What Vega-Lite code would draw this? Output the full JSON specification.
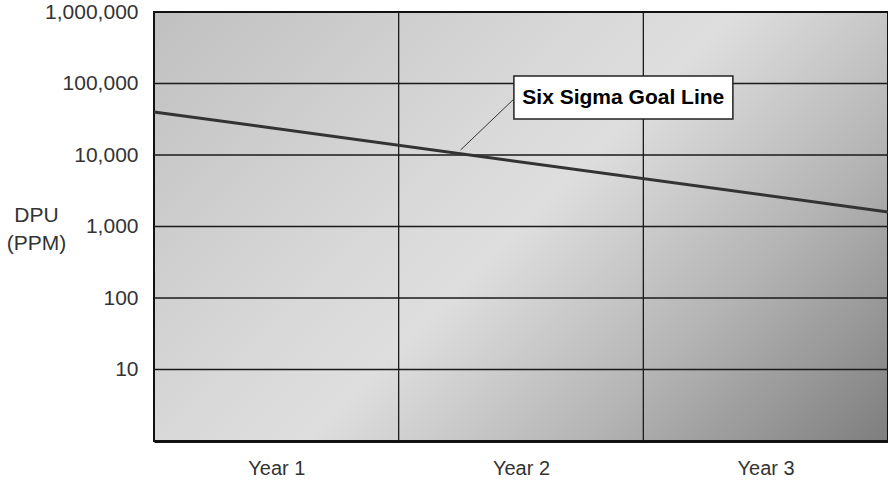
{
  "$schema": "https://vega.github.io/schema/vega-lite/v6.json",
  "width": 734,
  "height": 429,
  "autosize": {"type": "none"},
  "padding": {"left": 154, "top": 12, "right": 0, "bottom": 40},
  "background": "white",
  "config": {
    "view": {"stroke": null},
    "font": "Liberation Sans"
  },
  "datasets": {
    "bg": [{"x0": 0, "x1": 3, "y0": 1, "y1": 1000000}],
    "hgrid": [{"v": 10}, {"v": 100}, {"v": 1000}, {"v": 10000}, {"v": 100000}],
    "vgrid": [{"v": 1}, {"v": 2}],
    "goal": [{"year": 0, "dpu": 40000}, {"year": 3, "dpu": 1600}],
    "callout": [{"x": 1.253, "y": 11750, "x2": 1.471, "y2": 60700}],
    "box": [{"x": 1.471, "x2": 2.366, "y": 127400, "y2": 31860, "cx": 1.918, "cy": 63700, "label": "Six Sigma Goal Line"}]
  },
  "layer": [
    {
      "data": {"name": "bg"},
      "mark": {
        "type": "rect",
        "fill": {
          "gradient": "linear",
          "x1": 0, "y1": 0, "x2": 1.181, "y2": 0.69,
          "stops": [
            {"offset": 0, "color": "#c0c0c0"},
            {"offset": 0.37, "color": "#d8d8d8"},
            {"offset": 0.5, "color": "#dedede"},
            {"offset": 0.74, "color": "#b4b4b4"},
            {"offset": 1, "color": "#7e7e7e"}
          ]
        },
        "stroke": "#111",
        "strokeWidth": 2
      },
      "encoding": {
        "x": {
          "field": "x0", "type": "quantitative",
          "scale": {"domain": [0, 3], "nice": false, "zero": false},
          "axis": {
            "title": null,
            "values": [0.5, 1.5, 2.5],
            "labelExpr": "'Year ' + (datum.value + 0.5)",
            "labelFlush": false,
            "grid": false,
            "ticks": false,
            "tickSize": 0,
            "domainColor": "#111",
            "domainWidth": 3,
            "labelFontSize": 20,
            "labelColor": "#333",
            "labelPadding": 17,
            "labelDx": 6
          }
        },
        "x2": {"field": "x1"},
        "y": {
          "field": "y0", "type": "quantitative",
          "scale": {"type": "log", "domain": [1, 1000000], "nice": false},
          "axis": {
            "values": [10, 100, 1000, 10000, 100000, 1000000],
            "format": ",",
            "grid": false,
            "ticks": false,
            "tickSize": 0,
            "domainColor": "#111",
            "domainWidth": 3,
            "labelFontSize": 21,
            "labelColor": "#333",
            "labelPadding": 16,
            "title": ["DPU", "(PPM)"],
            "titleAngle": 0,
            "titleAlign": "center",
            "titleBaseline": "top",
            "titleX": -118,
            "titleY": 192,
            "titleFontSize": 21,
            "titleFontWeight": "normal",
            "titleColor": "#333",
            "titleLineHeight": 28
          }
        },
        "y2": {"field": "y1"}
      }
    },
    {
      "data": {"name": "hgrid"},
      "mark": {"type": "rule", "color": "#1a1a1a", "strokeWidth": 1.3},
      "encoding": {"y": {"field": "v", "type": "quantitative"}}
    },
    {
      "data": {"name": "vgrid"},
      "mark": {"type": "rule", "color": "#1a1a1a", "strokeWidth": 1.3},
      "encoding": {"x": {"field": "v", "type": "quantitative"}}
    },
    {
      "data": {"name": "goal"},
      "mark": {"type": "line", "color": "#333", "strokeWidth": 3},
      "encoding": {
        "x": {"field": "year", "type": "quantitative"},
        "y": {"field": "dpu", "type": "quantitative"}
      }
    },
    {
      "data": {"name": "callout"},
      "mark": {"type": "rule", "color": "#333", "strokeWidth": 1},
      "encoding": {
        "x": {"field": "x", "type": "quantitative"},
        "y": {"field": "y", "type": "quantitative"},
        "x2": {"field": "x2"},
        "y2": {"field": "y2"}
      }
    },
    {
      "data": {"name": "box"},
      "mark": {"type": "rect", "fill": "white", "stroke": "#222", "strokeWidth": 1.5},
      "encoding": {
        "x": {"field": "x", "type": "quantitative"},
        "x2": {"field": "x2"},
        "y": {"field": "y", "type": "quantitative"},
        "y2": {"field": "y2"}
      }
    },
    {
      "data": {"name": "box"},
      "mark": {"type": "text", "font": "Liberation Sans", "fontSize": 21, "fontWeight": "bold", "color": "#000", "align": "center", "baseline": "middle"},
      "encoding": {
        "x": {"field": "cx", "type": "quantitative"},
        "y": {"field": "cy", "type": "quantitative"},
        "text": {"field": "label"}
      }
    }
  ]
}
